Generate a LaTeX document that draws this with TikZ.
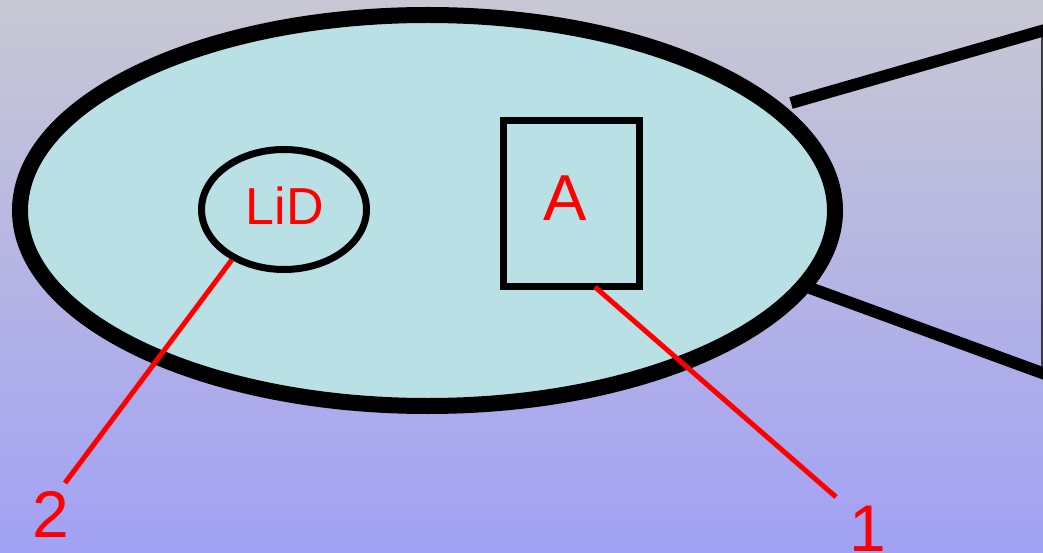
\documentclass[tikz,border=0pt]{standalone}
\usepackage{fontspec}
\setmainfont{Liberation Sans}
\usetikzlibrary{shapes.geometric}
\definecolor{bgtop}{RGB}{200,200,212}
\definecolor{bgbot}{RGB}{161,161,245}
\definecolor{cellfill}{RGB}{185,224,228}
\definecolor{edgegray}{RGB}{60,60,70}
\begin{document}
\begin{tikzpicture}[x=1pt,y=-1pt,
  bigell/.style={ellipse,draw=black,line width=16pt,fill=cellfill,minimum width=815pt,minimum height=391pt,inner sep=0pt},
  smallell/.style={ellipse,draw=black,line width=7pt,minimum width=165pt,minimum height=120pt,inner sep=0pt},
  abox/.style={rectangle,draw=black,line width=7pt,minimum width=136pt,minimum height=166pt,inner sep=0pt},
  redtext/.style={text=red,inner sep=0pt},
  redline/.style={draw=red,line width=5pt},
  blackline/.style={draw=black,line width=12pt}]
\useasboundingbox (0,0) rectangle (1043,553);
\shade[top color=bgtop,bottom color=bgbot] (0,0) rectangle (1043,553);
\draw[edgegray,line width=1.2pt] (1042,36) -- (1042,368);
\coordinate (u1) at (791,103);
\coordinate (u2) at (1045,30);
\coordinate (l1) at (810,288);
\coordinate (l2) at (1045,374);
\draw[blackline] (u1) -- (u2);
\draw[blackline] (l1) -- (l2);
\node[bigell] (cell) at (427.5,210.5) {};
\node[smallell] (lid) at (284,209.5) {};
\node[redtext,font=\fontsize{52}{56}\selectfont] (lidtext) at (285,206) {LiD};
\node[abox] (box) at (571.5,203.5) {};
\node[redtext,font=\fontsize{65}{70}\selectfont] (atext) at (565,198) {A};
\node[redtext,font=\fontsize{66}{70}\selectfont] (two) at (51,514) {2};
\node[redtext,font=\fontsize{66}{70}\selectfont] (one) at (868,529) {1};
\coordinate (e2) at (65,483);
\coordinate (e1) at (836,497);
\coordinate (s1) at (595,287);
\draw[redline] (lid.224) -- (e2);
\draw[redline] (s1) -- (e1);
\end{tikzpicture}
\end{document}
